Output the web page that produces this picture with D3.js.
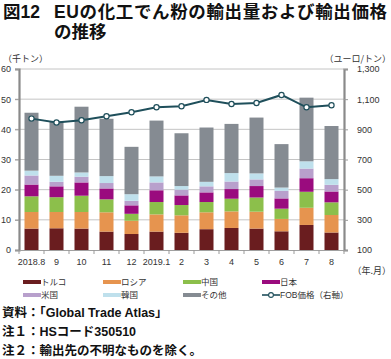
<!DOCTYPE html>
<html><head><meta charset="utf-8">
<script src="https://cdn.jsdelivr.net/npm/d3@7"></script>
<style>
body{margin:0;background:#fff;}
svg{display:block;}
</style></head><body>
<svg id="c" width="391" height="359"></svg>
<script>
const months = ["2018.8","9","10","11","12","2019.1","2","3","4","5","6","7","8"];
const seriesNames = ["トルコ","ロシア","中国","日本","米国","韓国","その他"];
const turkey = [7.1,7.2,7.1,6.1,5.3,6.1,5.7,6.9,7.3,7.1,6.2,8.3,5.8];
const russia = [5.5,5.4,5.5,6.4,4.4,5.7,5.8,5.6,5.5,5.6,4.1,5.7,5.8];
const china  = [5.2,4.9,5.4,4.3,2.3,4.1,3.4,3.4,4.2,4.7,3.4,5.3,4.2];
const japan  = [3.9,3.6,4.4,3.6,2.8,3.9,3.2,3.2,3.2,3.8,3.4,4.5,3.6];
const usa    = [3.0,1.5,1.9,1.8,1.5,2.6,1.9,2.0,2.5,2.2,2.5,3.2,2.2];
const korea  = [1.6,2.0,1.4,2.3,2.2,2.0,1.2,1.5,2.8,2.0,1.1,2.4,1.9];
const other  = [19.2,18.1,21.8,19.0,15.7,18.5,17.5,18.0,16.3,18.5,14.4,21.1,17.6];
const fob    = [971,945,960,987,1013,1046,1053,1095,1068,1075,1128,1046,1060];
const leftTicks = [0,10,20,30,40,50,60];
const rightTicks = [100,300,500,700,900,1100,1300];
const colors = ["#6a1d1f","#e6944f","#8cbf4b","#9a0b7e","#b8a0cc","#bfe0ec","#858b92"];
const fobName = "FOB価格（右軸）";

const svg = d3.select("#c");
const jp = "'Noto Sans CJK JP', sans-serif";
const lat = "'Liberation Sans', 'Noto Sans CJK JP', sans-serif";
const L = 19, R = 344, T = 69, B = 250;

// Title
svg.append("text").attr("x",3).attr("y",18).attr("font-family",lat).attr("font-weight","bold")
  .attr("font-size",17.5).attr("fill","#111").text("図12");
svg.append("text").attr("x",54).attr("y",18).attr("font-family",lat).attr("font-weight","bold")
  .attr("font-size",17.5).attr("fill","#111")
  .attr("textLength",333).attr("lengthAdjust","spacing")
  .text("EUの化工でん粉の輸出量および輸出価格");
svg.append("text").attr("x",54).attr("y",38).attr("font-family",lat).attr("font-weight","bold")
  .attr("font-size",17.5).attr("fill","#111").text("の推移");

const x = d3.scaleBand().domain(months).range([L,R]).paddingInner(0.44).paddingOuter(0.22);
const y = d3.scaleLinear().domain([0,60]).range([B,T]);
const y2 = d3.scaleLinear().domain([100,1300]).range([B,T]);

// gridlines
svg.append("g").selectAll("line").data(leftTicks.filter(d=>d>0)).join("line")
  .attr("x1",L-4).attr("x2",R).attr("y1",d=>y(d)).attr("y2",d=>y(d))
  .attr("stroke","#c4c4c4").attr("stroke-width",1);

// stacked bars
const rows = months.map((m,i)=>({m, "トルコ":turkey[i],"ロシア":russia[i],"中国":china[i],"日本":japan[i],"米国":usa[i],"韓国":korea[i],"その他":other[i]}));
const stack = d3.stack().keys(seriesNames)(rows);
svg.append("g").selectAll("g").data(stack).join("g").attr("fill",(d,i)=>colors[i])
  .selectAll("rect").data(d=>d).join("rect")
  .attr("x",d=>x(d.data.m)).attr("width",x.bandwidth())
  .attr("y",d=>y(d[1])).attr("height",d=>y(d[0])-y(d[1]));

// axes
const axL = svg.append("g").attr("transform",`translate(${L},0)`)
  .call(d3.axisLeft(y).tickValues(leftTicks).tickSize(4).tickPadding(4).tickFormat(d3.format("d")));
const axR = svg.append("g").attr("transform",`translate(${R},0)`)
  .call(d3.axisRight(y2).tickValues(rightTicks).tickSize(4).tickPadding(9).tickFormat(d3.format(",")));
const bandEdges = months.map((m,i)=>L + i*(R-L)/months.length).concat([R]);
const axB = svg.append("g").attr("transform",`translate(0,${B})`)
  .call(d3.axisBottom(x).tickSize(0).tickPadding(9));
svg.append("g").selectAll("line").data(bandEdges).join("line")
  .attr("x1",d=>d).attr("x2",d=>d).attr("y1",B).attr("y2",B+4).attr("stroke","#999");
[axL,axR,axB].forEach(a=>{
  a.selectAll("text").attr("font-family",lat).attr("font-size",9).attr("fill","#333");
  a.selectAll(".tick line").attr("stroke","#999");
});
axL.select(".domain").attr("stroke","#8a8a8a").attr("stroke-width",2.2);
axR.select(".domain").attr("stroke","#8a8a8a").attr("stroke-width",2.2);
axB.select(".domain").attr("stroke","#a0a0a0").attr("stroke-width",1.2);

// FOB line
const line = d3.line().x((d,i)=>x(months[i])+x.bandwidth()/2).y(d=>y2(d));
svg.append("path").datum(fob).attr("d",line).attr("fill","none").attr("stroke","#1f4f5b").attr("stroke-width",2);
svg.append("g").selectAll("circle").data(fob).join("circle")
  .attr("cx",(d,i)=>x(months[i])+x.bandwidth()/2).attr("cy",d=>y2(d)).attr("r",2.6)
  .attr("fill","#fff").attr("stroke","#1f4f5b").attr("stroke-width",1.2);

// axis titles
svg.append("text").attr("x",3).attr("y",62).attr("font-family",jp).attr("font-size",9).attr("fill","#333").text("（千トン）");
svg.append("text").attr("x",391).attr("y",62).attr("text-anchor","end").attr("font-family",jp).attr("font-size",9).attr("fill","#333").text("（ユーロ/トン）");
svg.append("text").attr("x",391).attr("y",274).attr("text-anchor","end").attr("font-family",jp).attr("font-size",9).attr("fill","#333").text("（年.月）");

// legend
const legX = [23,103,183,262];
const legItems = seriesNames.map((n,i)=>({n, c:colors[i], type:"bar"})).concat([{n:fobName,c:"#1f4f5b",type:"line"}]);
legItems.forEach((d,i)=>{
  const col = i%4, row = Math.floor(i/4);
  const gx = legX[col], gy = 282 + row*13;
  if(d.type==="bar"){
    svg.append("rect").attr("x",gx).attr("y",gy-2).attr("width",18).attr("height",4).attr("fill",d.c);
  } else {
    svg.append("line").attr("x1",gx).attr("x2",gx+18).attr("y1",gy).attr("y2",gy).attr("stroke",d.c).attr("stroke-width",1.6);
    svg.append("circle").attr("cx",gx+9).attr("cy",gy).attr("r",2.4).attr("fill","#fff").attr("stroke",d.c).attr("stroke-width",1.1);
  }
  svg.append("text").attr("x",gx+18).attr("y",gy+3.2).attr("font-family",lat).attr("font-size",8.5).attr("fill","#333").text(d.n);
});

// notes
const notes = ["資料：「Global Trade Atlas」","注１：HSコード350510","注２：輸出先の不明なものを除く。"];
svg.append("g").selectAll("text").data(notes).join("text")
  .attr("x",2).attr("y",(d,i)=>317+i*19).attr("font-family",lat).attr("font-weight",600)
  .attr("font-size",12.5).attr("fill","#111").text(d=>d);
</script></body></html>
